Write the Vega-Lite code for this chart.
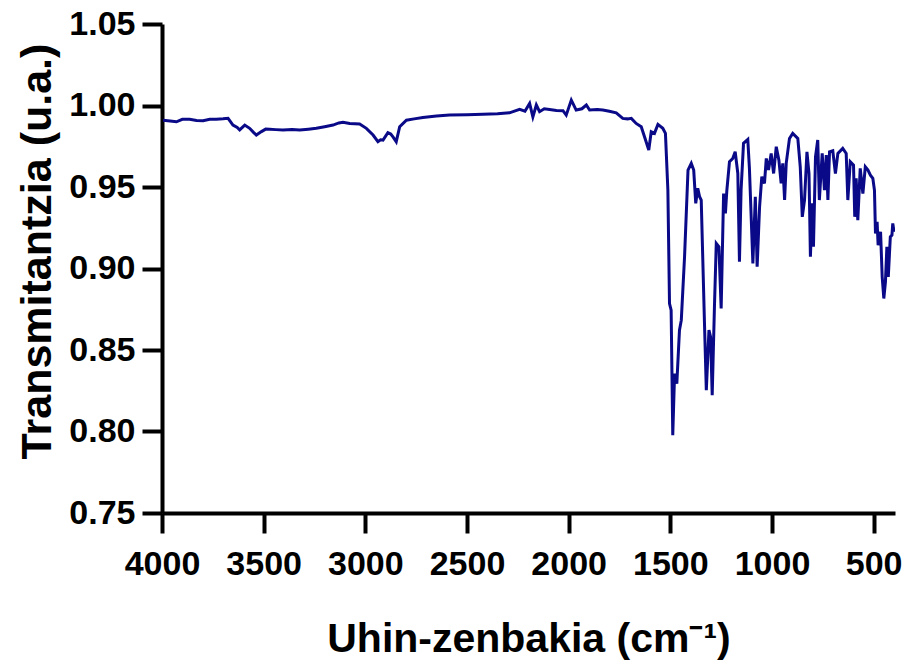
{
  "$schema": "https://vega.github.io/schema/vega-lite/v6.json",
  "width": 733,
  "height": 489,
  "autosize": {"type": "none"},
  "padding": {"left": 162, "top": 24, "right": 14, "bottom": 149},
  "background": "white",
  "config": {"view": {"stroke": null}, "font": "Liberation Sans"},
  "data": {"values": [
    {"v":3995,"t":0.991},{"v":3960,"t":0.9905},{"v":3929,"t":0.990},{"v":3900,"t":0.9915},{"v":3864,"t":0.9915},
    {"v":3830,"t":0.9908},{"v":3798,"t":0.9906},{"v":3765,"t":0.9915},{"v":3733,"t":0.9915},{"v":3700,"t":0.9918},
    {"v":3675,"t":0.9921},{"v":3651,"t":0.988},{"v":3630,"t":0.9865},{"v":3618,"t":0.985},{"v":3593,"t":0.988},
    {"v":3569,"t":0.986},{"v":3550,"t":0.9835},{"v":3536,"t":0.9819},{"v":3511,"t":0.984},{"v":3490,"t":0.9855},
    {"v":3470,"t":0.9854},{"v":3440,"t":0.9852},{"v":3405,"t":0.985},{"v":3360,"t":0.9852},{"v":3323,"t":0.985},
    {"v":3280,"t":0.9855},{"v":3241,"t":0.986},{"v":3200,"t":0.987},{"v":3159,"t":0.988},{"v":3130,"t":0.9893},
    {"v":3110,"t":0.9897},{"v":3077,"t":0.989},{"v":3028,"t":0.9886},{"v":2995,"t":0.986},{"v":2962,"t":0.9819},
    {"v":2938,"t":0.9778},{"v":2925,"t":0.979},{"v":2913,"t":0.9788},{"v":2889,"t":0.9833},{"v":2875,"t":0.9825},
    {"v":2864,"t":0.9808},{"v":2848,"t":0.9778},{"v":2831,"t":0.987},{"v":2798,"t":0.991},{"v":2760,"t":0.9918},
    {"v":2717,"t":0.9927},{"v":2650,"t":0.9935},{"v":2586,"t":0.9941},{"v":2500,"t":0.9944},{"v":2422,"t":0.9947},
    {"v":2350,"t":0.995},{"v":2291,"t":0.9955},{"v":2241,"t":0.9976},{"v":2215,"t":0.9965},{"v":2192,"t":1.0013},
    {"v":2176,"t":0.993},{"v":2159,"t":1.0003},{"v":2143,"t":0.9962},{"v":2120,"t":0.998},{"v":2094,"t":0.9976},
    {"v":2060,"t":0.997},{"v":2028,"t":0.9968},{"v":2012,"t":0.9941},{"v":1987,"t":1.0033},{"v":1963,"t":0.9972},
    {"v":1935,"t":0.998},{"v":1913,"t":1.0003},{"v":1897,"t":0.9972},{"v":1860,"t":0.9975},{"v":1832,"t":0.9972},
    {"v":1800,"t":0.9965},{"v":1766,"t":0.9955},{"v":1734,"t":0.9921},{"v":1710,"t":0.9918},{"v":1692,"t":0.9921},
    {"v":1668,"t":0.989},{"v":1643,"t":0.987},{"v":1627,"t":0.9808},{"v":1606,"t":0.9727},{"v":1594,"t":0.9839},
    {"v":1578,"t":0.9829},{"v":1561,"t":0.9884},{"v":1537,"t":0.986},{"v":1524,"t":0.9829},{"v":1512,"t":0.948},
    {"v":1504,"t":0.8785},{"v":1496,"t":0.8744},{"v":1488,"t":0.7977},{"v":1479,"t":0.8356},{"v":1468,"t":0.8294},
    {"v":1455,"t":0.8622},{"v":1446,"t":0.8683},{"v":1430,"t":0.9072},{"v":1413,"t":0.9604},{"v":1397,"t":0.9645},
    {"v":1385,"t":0.9604},{"v":1375,"t":0.94},{"v":1365,"t":0.9492},{"v":1356,"t":0.944},{"v":1348,"t":0.942},
    {"v":1332,"t":0.8663},{"v":1323,"t":0.8253},{"v":1310,"t":0.8622},{"v":1302,"t":0.858},{"v":1294,"t":0.8222},
    {"v":1283,"t":0.8765},{"v":1274,"t":0.9154},{"v":1261,"t":0.9133},{"v":1250,"t":0.8755},{"v":1238,"t":0.946},
    {"v":1229,"t":0.9338},{"v":1222,"t":0.948},{"v":1209,"t":0.9655},{"v":1193,"t":0.9675},{"v":1181,"t":0.9716},
    {"v":1168,"t":0.9583},{"v":1160,"t":0.9041},{"v":1152,"t":0.948},{"v":1140,"t":0.9768},{"v":1119,"t":0.9792},
    {"v":1111,"t":0.9614},{"v":1094,"t":0.9031},{"v":1082,"t":0.944},{"v":1073,"t":0.9011},{"v":1061,"t":0.9379},
    {"v":1050,"t":0.9563},{"v":1037,"t":0.9522},{"v":1028,"t":0.9675},{"v":1017,"t":0.9604},{"v":1004,"t":0.9706},
    {"v":992,"t":0.9583},{"v":979,"t":0.9747},{"v":966,"t":0.9665},{"v":955,"t":0.9522},{"v":947,"t":0.9645},
    {"v":938,"t":0.942},{"v":930,"t":0.9645},{"v":914,"t":0.9798},{"v":898,"t":0.9829},{"v":873,"t":0.9798},
    {"v":861,"t":0.9624},{"v":851,"t":0.9317},{"v":840,"t":0.942},{"v":828,"t":0.9716},{"v":818,"t":0.9583},
    {"v":811,"t":0.9072},{"v":802,"t":0.94},{"v":796,"t":0.9133},{"v":786,"t":0.9685},{"v":775,"t":0.9788},
    {"v":767,"t":0.942},{"v":753,"t":0.9706},{"v":742,"t":0.948},{"v":733,"t":0.9696},{"v":725,"t":0.942},
    {"v":717,"t":0.9716},{"v":701,"t":0.9722},{"v":688,"t":0.9583},{"v":676,"t":0.9706},{"v":652,"t":0.9737},
    {"v":635,"t":0.9706},{"v":627,"t":0.942},{"v":615,"t":0.9655},{"v":599,"t":0.9634},{"v":593,"t":0.9317},
    {"v":586,"t":0.9553},{"v":578,"t":0.9297},{"v":566,"t":0.9614},{"v":553,"t":0.946},{"v":541,"t":0.9624},
    {"v":528,"t":0.9604},{"v":516,"t":0.9573},{"v":504,"t":0.9553},{"v":496,"t":0.948},{"v":491,"t":0.9215},
    {"v":483,"t":0.9286},{"v":478,"t":0.9143},{"v":466,"t":0.9225},{"v":458,"t":0.8949},{"v":450,"t":0.8816},
    {"v":442,"t":0.8918},{"v":435,"t":0.9133},{"v":428,"t":0.8949},{"v":418,"t":0.9194},{"v":410,"t":0.9205},
    {"v":406,"t":0.9277},{"v":400,"t":0.9225}
  ]},
  "mark": {"type": "line", "color": "#0a0a88", "strokeWidth": 3, "clip": true},
  "encoding": {
    "x": {
      "field": "v", "type": "quantitative",
      "scale": {"domain": [4000, 395], "nice": false, "zero": false},
      "axis": {
        "values": [4000, 3500, 3000, 2500, 2000, 1500, 1000, 500],
        "format": "d",
        "title": "Uhin-zenbakia (cm⁻¹)",
        "grid": false,
        "domainColor": "black", "domainWidth": 4,
        "tickColor": "black", "tickWidth": 4, "tickSize": 20,
        "labelFont": "Liberation Sans", "labelFontWeight": "bold", "labelFontSize": 34, "labelColor": "black",
        "labelPadding": 14, "labelFlush": false, "labelOverlap": false,
        "titleFont": "Liberation Sans", "titleFontWeight": "bold", "titleFontSize": 41, "titleColor": "black",
        "titleBaseline": "alphabetic", "titleY": 138
      }
    },
    "y": {
      "field": "t", "type": "quantitative",
      "scale": {"domain": [0.75, 1.05], "nice": false, "zero": false},
      "axis": {
        "values": [0.75, 0.8, 0.85, 0.9, 0.95, 1.0, 1.05],
        "format": ".2f",
        "title": "Transmitantzia (u.a.)",
        "grid": false,
        "domainColor": "black", "domainWidth": 4,
        "tickColor": "black", "tickWidth": 4, "tickSize": 20,
        "labelFont": "Liberation Sans", "labelFontWeight": "bold", "labelFontSize": 34, "labelColor": "black",
        "labelPadding": 7, "labelFlush": false, "labelOverlap": false,
        "titleFont": "Liberation Sans", "titleFontWeight": "bold", "titleFontSize": 43, "titleColor": "black",
        "titleAngle": 270, "titleAlign": "center", "titleBaseline": "alphabetic", "titleX": -112, "titleY": 227
      }
    }
  }
}
